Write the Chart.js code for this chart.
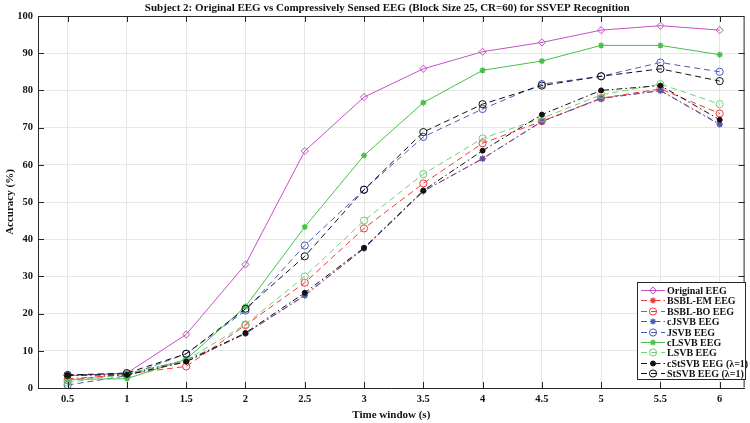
<!DOCTYPE html>
<html>
<head>
<meta charset="utf-8">
<script src="https://cdn.jsdelivr.net/npm/chart.js@4"></script>
<style>
  html, body { margin: 0; padding: 0; background: #fff; }
  #wrap { width: 750px; height: 423px; }
</style>
</head>
<body>
<div id="wrap"><canvas id="chart" width="750" height="423"></canvas></div>
<script>
// datos
const timeWindow = [0.5, 1, 1.5, 2, 2.5, 3, 3.5, 4, 4.5, 5, 5.5, 6];
const yTicks = [0, 10, 20, 30, 40, 50, 60, 70, 80, 90, 100];

const originalEEG = [3.3, 4.0, 14.4, 33.2, 63.7, 78.2, 85.8, 90.4, 92.9, 96.2, 97.4, 96.2];
const bsblEM = [2.5, 3.5, 7.0, 14.6, 25.0, 37.5, 52.9, 61.7, 71.7, 77.9, 80.0, 71.0];
const bsblBO = [2.1, 3.8, 5.8, 16.9, 28.3, 42.9, 55.0, 65.8, 71.7, 77.9, 80.4, 73.8];
const cJSVB = [3.3, 3.8, 7.5, 14.6, 24.8, 37.5, 52.9, 61.6, 71.6, 77.8, 79.9, 70.8];
const JSVB = [0.8, 3.3, 9.2, 20.8, 38.3, 53.3, 67.5, 75.0, 81.7, 83.8, 87.5, 85.0];
const cLSVB = [2.3, 2.5, 7.7, 21.9, 43.3, 62.5, 76.7, 85.4, 87.9, 92.1, 92.1, 89.6];
const LSVB = [1.5, 3.8, 7.5, 17.1, 30.0, 45.0, 57.5, 67.1, 72.5, 78.8, 81.7, 76.3];
const cStSVB = [3.5, 3.5, 7.1, 14.8, 25.6, 37.7, 53.1, 63.8, 73.5, 80.0, 81.3, 72.1];
const StSVB = [3.5, 4.0, 9.2, 21.3, 35.4, 53.3, 68.8, 76.3, 81.3, 83.8, 85.8, 82.5];

const FONT = '"Liberation Serif", "Times New Roman", serif';
const DASH = [6, 4];
const DASHDOT = [6, 3, 1.5, 3];

// nombre, valores, color, estilo de linea, marcador, relleno
const series = [
  ['Original EEG', originalEEG, '#c64fc6', [], 'rectRot', false],
  ['BSBL-EM EEG', bsblEM, '#f03a3a', DASHDOT, 'star', true],
  ['BSBL-BO EEG', bsblBO, '#f03a3a', DASH, 'circle', false],
  ['cJSVB EEG', cJSVB, '#4a5bb8', DASHDOT, 'star', true],
  ['JSVB EEG', JSVB, '#4a5bb8', DASH, 'circle', false],
  ['cLSVB EEG', cLSVB, '#46c046', [], 'star', true],
  ['LSVB EEG', LSVB, '#72d072', DASH, 'circle', false],
  ['cStSVB EEG (\u03bb=1)', cStSVB, '#111111', DASHDOT, 'dot', true],
  ['StSVB EEG (\u03bb=1)', StSVB, '#111111', DASH, 'circle', false]
];

const datasets = series.map((s, i) => ({
  label: s[0],
  data: timeWindow.map((t, k) => ({ x: t, y: s[1][k] })),
  borderColor: s[2],
  borderWidth: 1,
  borderDash: s[3],
  pointStyle: s[4] === 'dot' ? 'circle' : s[4],
  pointRadius: s[4] === 'dot' ? 2.5 : (s[4] === 'star' ? 3 : 3.6),
  pointBorderWidth: s[4] === 'star' ? 1.4 : 1,
  pointBackgroundColor: s[5] ? s[2] : 'rgba(0,0,0,0)',
  pointBorderColor: s[2],
  tension: 0,
  order: series.length - i
}));

// caja, marcas hacia dentro, titulo y leyenda estilo matlab
const matlabPlugin = {
  id: 'matlabBox',
  afterDraw(chart) {
    const ctx = chart.ctx;
    const a = chart.chartArea;
    const xs = chart.scales.x, ys = chart.scales.y;
    ctx.save();
    ctx.strokeStyle = '#262626';
    ctx.lineWidth = 1;
    ctx.beginPath();
    ctx.moveTo(a.left + 0.5, a.top + 0.5);
    ctx.lineTo(a.right - 0.5, a.top + 0.5);
    ctx.lineTo(a.right - 0.5, a.bottom - 0.5);
    ctx.stroke();
    ctx.beginPath();
    timeWindow.forEach(t => {
      const px = Math.round(xs.getPixelForValue(t)) + 0.5;
      ctx.moveTo(px, a.bottom); ctx.lineTo(px, a.bottom - 6);
      ctx.moveTo(px, a.top); ctx.lineTo(px, a.top + 6);
    });
    yTicks.forEach(v => {
      const py = Math.round(ys.getPixelForValue(v)) + 0.5;
      ctx.moveTo(a.left, py); ctx.lineTo(a.left + 6, py);
      ctx.moveTo(a.right, py); ctx.lineTo(a.right - 6, py);
    });
    ctx.stroke();

    // titulo
    ctx.fillStyle = '#111';
    ctx.font = 'bold 11px ' + FONT;
    ctx.textAlign = 'center';
    ctx.textBaseline = 'middle';
    ctx.fillText('Subject 2: Original EEG vs Compressively Sensed EEG (Block Size 25, CR=60) for SSVEP Recognition', (a.left + a.right) / 2 - 4, 8);

    // leyenda
    const bx = 637, by = 282, bw = 108, bh = 97;
    ctx.fillStyle = '#fff';
    ctx.fillRect(bx, by, bw, bh);
    ctx.strokeStyle = '#262626';
    ctx.lineWidth = 1;
    ctx.strokeRect(bx + 0.5, by + 0.5, bw, bh);
    ctx.font = 'bold 10px ' + FONT;
    ctx.textAlign = 'left';
    chart.data.datasets.forEach((ds, i) => {
      const y = Math.round(290 + i * 10.4) + 0.5;
      ctx.strokeStyle = ds.borderColor;
      ctx.lineWidth = 1;
      ctx.setLineDash(ds.borderDash);
      ctx.beginPath();
      ctx.moveTo(bx + 4, y); ctx.lineTo(bx + 28, y);
      ctx.stroke();
      ctx.setLineDash([]);
      ctx.fillStyle = ds.pointBackgroundColor;
      ctx.strokeStyle = ds.pointBorderColor;
      ctx.lineWidth = ds.pointBorderWidth;
      Chart.helpers.drawPoint(ctx, {
        pointStyle: ds.pointStyle,
        radius: ds.pointRadius,
        borderWidth: ds.pointBorderWidth,
        rotation: 0
      }, bx + 16, y);
      ctx.fillStyle = '#111';
      ctx.fillText(ds.label, bx + 30, y + 0.5);
    });
    ctx.restore();
  }
};

new Chart(document.getElementById('chart').getContext('2d'), {
  type: 'line',
  data: { datasets: datasets },
  options: {
    responsive: false,
    animation: false,
    layout: { padding: { top: 16, right: 1, left: 0, bottom: 0 } },
    plugins: {
      legend: { display: false },
      tooltip: { enabled: false },
      title: { display: false }
    },
    scales: {
      x: {
        type: 'linear',
        min: 0.25,
        max: 6.21,
        afterBuildTicks: scale => { scale.ticks = timeWindow.map(v => ({ value: v })); },
        afterFit: scale => { scale.height = 35; },
        grid: { color: '#e6e6e6', drawTicks: false },
        border: { color: '#262626', width: 1 },
        ticks: {
          color: '#111',
          font: { family: FONT, size: 10.5, weight: 'bold' },
          padding: 5,
          maxRotation: 0,
          callback: v => v
        },
        title: {
          display: true,
          text: 'Time window (s)',
          color: '#111',
          font: { family: FONT, size: 11, weight: 'bold' },
          padding: { top: 0, bottom: 1 }
        }
      },
      y: {
        min: 0,
        max: 100,
        afterBuildTicks: scale => { scale.ticks = yTicks.map(v => ({ value: v })); },
        afterFit: scale => { scale.width = 38; },
        grid: { color: '#e6e6e6', drawTicks: false },
        border: { color: '#262626', width: 1 },
        ticks: {
          color: '#111',
          font: { family: FONT, size: 10.5, weight: 'bold' },
          padding: 5
        },
        title: {
          display: true,
          text: 'Accuracy (%)',
          color: '#111',
          font: { family: FONT, size: 11, weight: 'bold' },
          padding: { top: 4, bottom: 0 }
        }
      }
    }
  },
  plugins: [matlabPlugin]
});
</script>
</body>
</html>
